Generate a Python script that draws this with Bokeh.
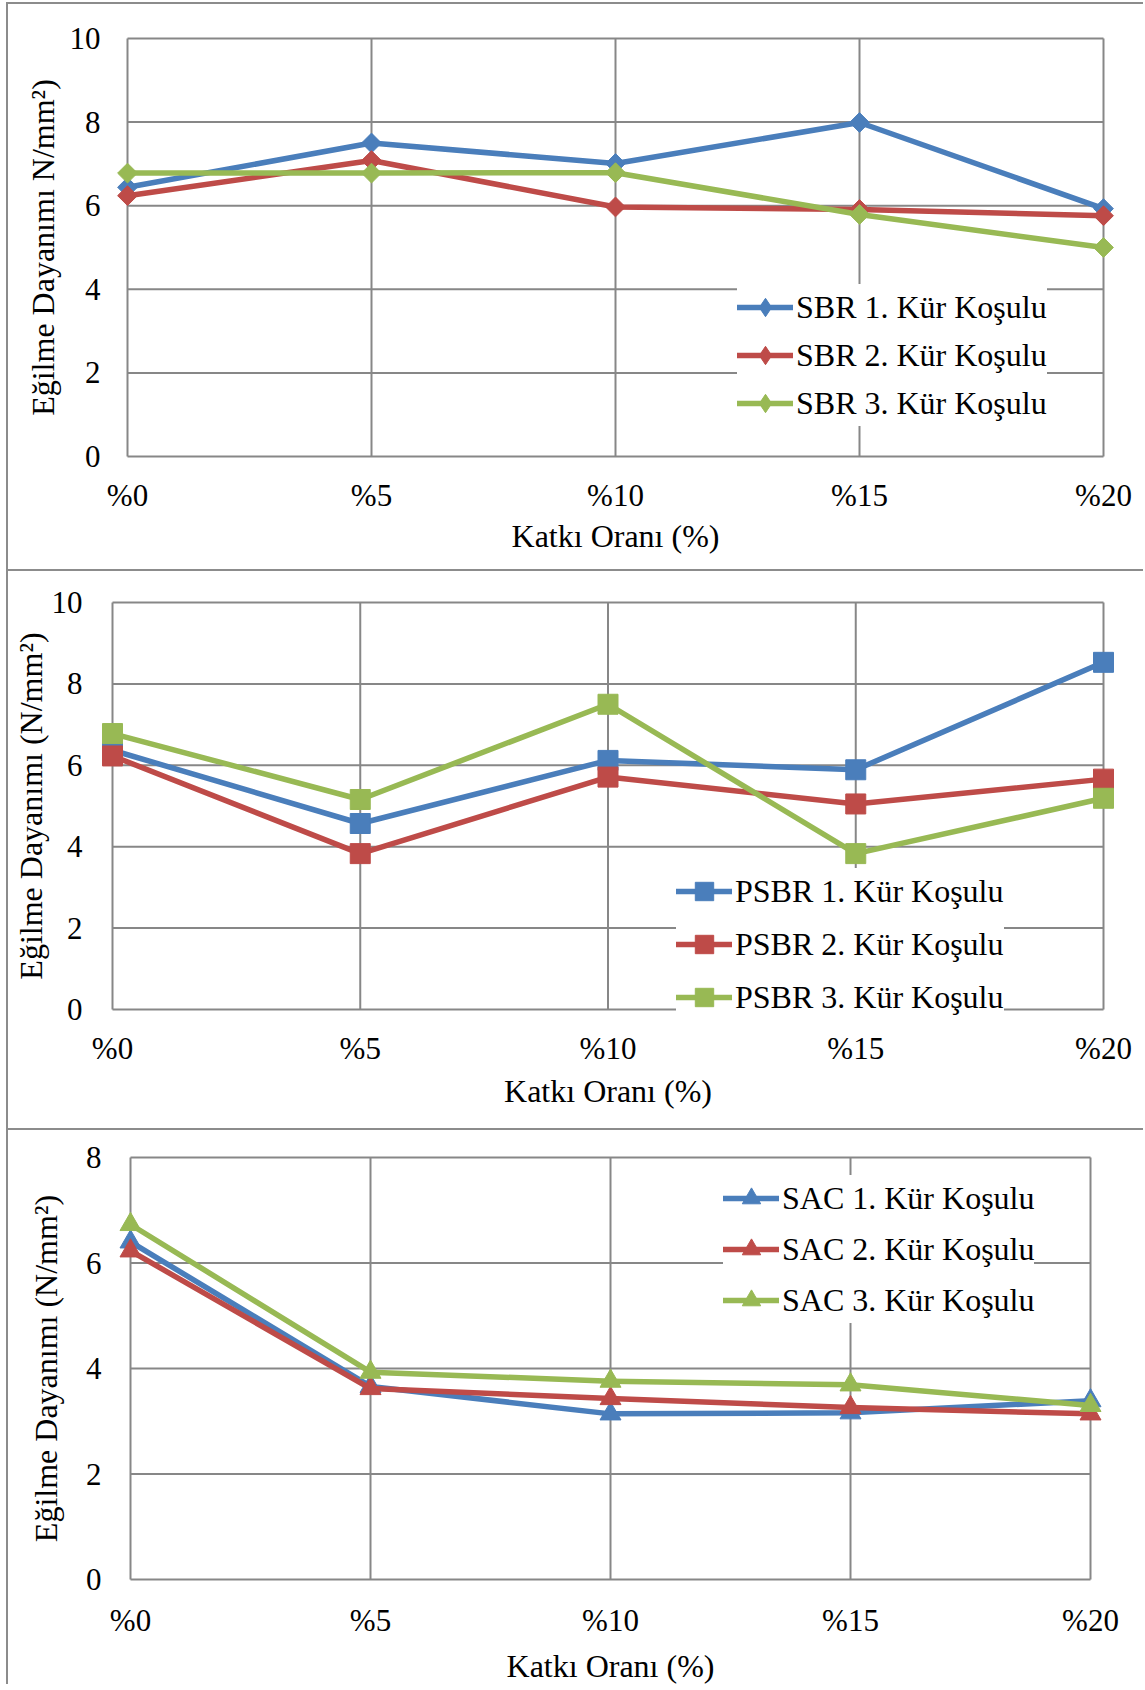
import math
from bokeh.plotting import figure
from bokeh.models import Range1d, FixedTicker, Legend, LegendItem
from bokeh.embed import file_html
from bokeh.resources import INLINE

# ---------------- data ----------------
categories = ["%0", "%5", "%10", "%15", "%20"]

sbr_1 = [6.44, 7.50, 7.01, 7.99, 5.93]
sbr_2 = [6.24, 7.08, 5.97, 5.91, 5.76]
sbr_3 = [6.78, 6.78, 6.79, 5.79, 5.00]

psbr_1 = [6.37, 4.57, 6.12, 5.89, 8.53]
psbr_2 = [6.23, 3.83, 5.71, 5.05, 5.66]
psbr_3 = [6.78, 5.16, 7.50, 3.83, 5.19]

sac_1 = [6.40, 3.66, 3.14, 3.16, 3.39]
sac_2 = [6.23, 3.62, 3.43, 3.26, 3.14]
sac_3 = [6.73, 3.93, 3.76, 3.69, 3.30]

labels_sbr = ["SBR 1. Kür Koşulu", "SBR 2. Kür Koşulu", "SBR 3. Kür Koşulu"]
labels_psbr = ["PSBR 1. Kür Koşulu", "PSBR 2. Kür Koşulu", "PSBR 3. Kür Koşulu"]
labels_sac = ["SAC 1. Kür Koşulu", "SAC 2. Kür Koşulu", "SAC 3. Kür Koşulu"]

yticks_10 = [0, 2, 4, 6, 8, 10]
yticks_8 = [0, 2, 4, 6, 8]

x_title = "Katkı Oranı (%)"
y_title_sbr = "Eğilme Dayanımı N/mm²)"
y_title_other = "Eğilme Dayanımı (N/mm²)"

# ---------------- style ----------------
colors = ["#4A7EBB", "#BE4B48", "#98B954"]
FONT = "Liberation Serif"
GRID = "#878787"
BORDER = "#8c8c8c"
PAD = 14
CANVAS_W = 1137
GLYPH_W = 56
ROW_H = 46
LEG_PAD = 10


def make_panel(series, labels, yticks, marker, ytitle, H, L, R, T, B,
               ytick_so, ylab_so, xtick_so, xlab_so,
               leg_glyph_left, leg_first_center, leg_spacing, top_margin):
    n = len(categories)
    xmax = n - 1
    ymax = yticks[-1]
    xpad = PAD * xmax / (R - L)
    ypad = PAD * ymax / (B - T)
    p = figure(width=CANVAS_W, height=H,
               x_range=Range1d(-xpad, xmax + xpad),
               y_range=Range1d(-ypad, ymax + ypad),
               output_backend="svg", toolbar_location=None,
               min_border_left=L - PAD, min_border_right=CANVAS_W - (R + PAD),
               min_border_top=T - PAD, min_border_bottom=H - (B + PAD),
               background_fill_color="white", border_fill_color="white")
    p.outline_line_color = None
    p.xgrid.visible = False
    p.ygrid.visible = False

    idx = list(range(n))
    # grid lines (incl. plot-area frame) limited to the data area
    p.segment(x0=idx, y0=[yticks[0]] * n, x1=idx, y1=[ymax] * n,
              line_color=GRID, line_width=2)
    p.segment(x0=[0] * len(yticks), y0=yticks, x1=[xmax] * len(yticks), y1=yticks,
              line_color=GRID, line_width=2)

    items = []
    for vals, lab, col in zip(series, labels, colors):
        ln = p.line(idx, vals, line_color=col, line_width=5.5,
                    line_join="round", line_cap="round")
        if marker == "diamond":
            leg = p.scatter(idx, vals, marker="diamond", size=18,
                            fill_color=col, line_color=col)
            p.scatter(idx, vals, marker="square", angle=math.pi / 4, size=14,
                      fill_color=col, line_color=col)
        else:
            size = 20 if marker == "square" else 21
            leg = p.scatter(idx, vals, marker=marker, size=size,
                            fill_color=col, line_color=col)
        items.append(LegendItem(label=lab, renderers=[ln, leg]))

    # axes
    p.xaxis.ticker = FixedTicker(ticks=idx)
    p.xaxis.major_label_overrides = {i: c for i, c in enumerate(categories)}
    p.yaxis.ticker = FixedTicker(ticks=yticks)
    p.xaxis.axis_label = x_title
    p.yaxis.axis_label = ytitle
    for ax in (p.xaxis[0], p.yaxis[0]):
        ax.axis_line_color = None
        ax.major_tick_line_color = None
        ax.minor_tick_line_color = None
        ax.major_tick_out = 0
        ax.major_tick_in = 0
        ax.major_label_text_font = FONT
        ax.major_label_text_font_size = "31px"
        ax.major_label_text_color = "#000000"
        ax.axis_label_text_font = FONT
        ax.axis_label_text_font_size = "32px"
        ax.axis_label_text_font_style = "normal"
        ax.axis_label_text_color = "#000000"
    p.yaxis.major_label_standoff = ytick_so
    p.yaxis.axis_label_standoff = ylab_so
    p.xaxis.major_label_standoff = xtick_so
    p.xaxis.axis_label_standoff = xlab_so

    # legend
    rows_h = 3 * ROW_H + 2 * leg_spacing
    first_top = leg_first_center - ROW_H / 2
    leg_bottom = first_top + rows_h + LEG_PAD
    loc_x = (leg_glyph_left - LEG_PAD) - (L - PAD)
    loc_y = (B + PAD) - leg_bottom
    legend = Legend(items=items, location=(loc_x, loc_y), orientation="vertical",
                    glyph_width=GLYPH_W, glyph_height=ROW_H, label_height=ROW_H,
                    label_standoff=3, spacing=leg_spacing, padding=LEG_PAD, margin=0,
                    background_fill_color="white", background_fill_alpha=1.0,
                    border_line_color=None,
                    label_text_font=FONT, label_text_font_size="32px",
                    label_text_color="#000000")
    p.add_layout(legend)

    p.styles = {"border-top": f"2px solid {BORDER}", "border-left": f"2px solid {BORDER}"}
    p.margin = (top_margin, 0, 0, 6)
    return p


p1 = make_panel([sbr_1, sbr_2, sbr_3], labels_sbr, yticks_10, "diamond", y_title_sbr,
                H=567, L=119, R=1095, T=34, B=452,
                ytick_so=13, ylab_so=6, xtick_so=7, xlab_so=2,
                leg_glyph_left=739, leg_first_center=293, leg_spacing=2, top_margin=2)
p2 = make_panel([psbr_1, psbr_2, psbr_3], labels_psbr, yticks_10, "square", y_title_other,
                H=559, L=104, R=1095, T=31, B=438,
                ytick_so=16, ylab_so=0, xtick_so=7, xlab_so=4,
                leg_glyph_left=678, leg_first_center=310, leg_spacing=7, top_margin=0)
p3 = make_panel([sac_1, sac_2, sac_3], labels_sac, yticks_8, "triangle", y_title_other,
                H=556, L=122, R=1082, T=27, B=449,
                ytick_so=15, ylab_so=19, xtick_so=9, xlab_so=7,
                leg_glyph_left=725, leg_first_center=58, leg_spacing=5, top_margin=0)

# separate roots so that the plot frames are not aligned with each other
open("out.html", "w").write(file_html([p1, p2, p3], INLINE))
